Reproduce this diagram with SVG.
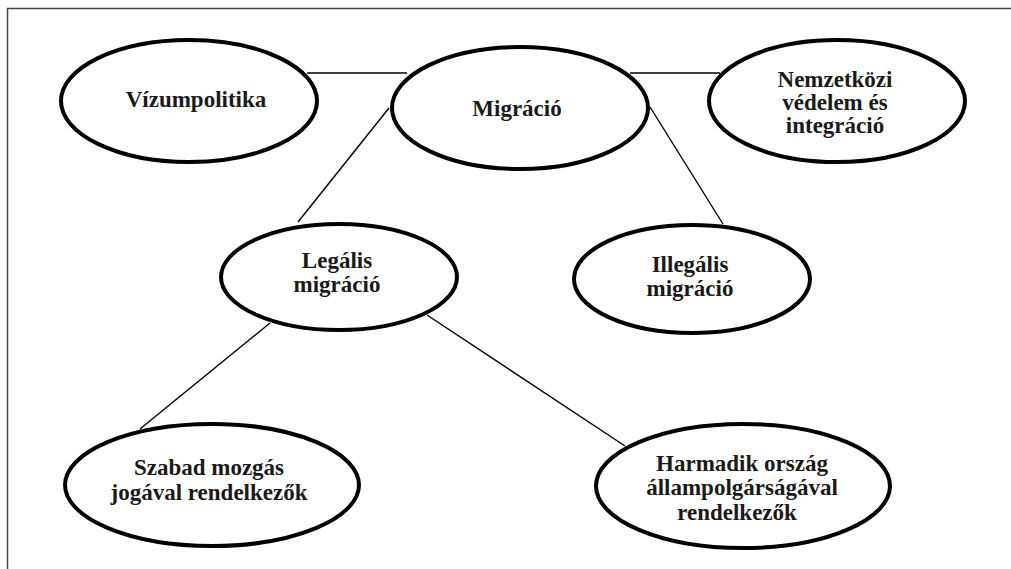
<svg xmlns="http://www.w3.org/2000/svg" width="1011" height="569" viewBox="0 0 1011 569">
<style>
.node ellipse{fill:#fff;stroke:#000;stroke-width:4}
.node text{font-family:'Liberation Serif','Times New Roman',serif;font-weight:700;font-size:23px;fill:#1a1a1a;text-anchor:middle}
.conn line{stroke:#000;stroke-width:1.4}
.frame{fill:none;stroke:#444;stroke-width:1.5}
</style>
<rect width="1011" height="569" fill="#fff"/>
<path class="frame" d="M7.5,569 V8.5 H1011"/>
<g id="connectors" class="conn">
<line x1="307" y1="73" x2="407" y2="73"/>
<line x1="630" y1="73" x2="720" y2="73"/>
<line x1="389" y1="108" x2="298" y2="222"/>
<line x1="650" y1="107" x2="723" y2="224"/>
<line x1="270" y1="323" x2="140" y2="429"/>
<line x1="427" y1="315" x2="625" y2="446"/>
</g>
<g id="vizumpolitika" class="node">
<ellipse cx="189" cy="101" rx="128" ry="61"/>
<text x="196" y="107" font-family="Liberation Serif, serif">Vízumpolitika</text>
</g>
<g id="migracio" class="node">
<ellipse cx="520" cy="108" rx="128" ry="61"/>
<text x="517" y="116">Migráció</text>
</g>
<g id="nemzetkozi" class="node">
<ellipse cx="837" cy="101" rx="128" ry="61"/>
<text x="835" y="87">Nemzetközi</text>
<text x="835" y="110">védelem és</text>
<text x="835" y="133">integráció</text>
</g>
<g id="legalis" class="node">
<ellipse cx="339" cy="277" rx="118" ry="53"/>
<text x="337" y="268">Legális</text>
<text x="337" y="292">migráció</text>
</g>
<g id="illegalis" class="node">
<ellipse cx="692" cy="279" rx="118" ry="54"/>
<text x="690" y="272">Illegális</text>
<text x="690" y="296">migráció</text>
</g>
<g id="szabad" class="node">
<ellipse cx="212" cy="485" rx="147" ry="61"/>
<text x="209" y="475">Szabad mozgás</text>
<text x="209" y="500">jogával rendelkezők</text>
</g>
<g id="harmadik" class="node">
<ellipse cx="743" cy="486" rx="147" ry="62"/>
<text x="742" y="471">Harmadik ország</text>
<text x="742" y="495">állampolgárságával</text>
<text x="737" y="520">rendelkezők</text>
</g>
</svg>
